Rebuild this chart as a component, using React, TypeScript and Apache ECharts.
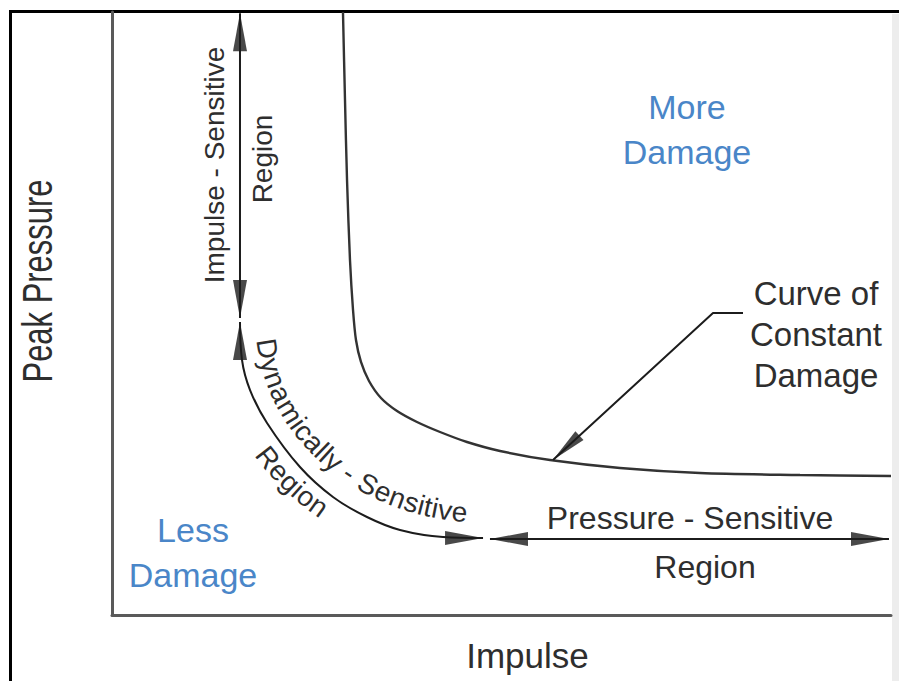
import React, { useEffect, useRef } from "react";
import * as echarts from "echarts";

// ---------- data (both axes in relative units 0–100) ----------
const curveImpulse = [29.65, 29.91, 30.17, 30.55, 30.94, 31.32, 31.96, 32.99, 34.53, 36.59, 39.15, 42.11, 45.57, 49.81, 56.23, 65.21, 75.48, 88.32, 100];
const curvePressure = [100, 85.41, 72.14, 58.87, 50.58, 45.61, 41.96, 38.81, 35.99, 33.83, 32.01, 30.35, 28.69, 27.2, 25.7, 24.38, 23.55, 23.22, 23.05];

const impulseArrowX = [16.43, 16.43];
const impulseArrowY = [99.8, 49.25];

const dynArcX = [16.43, 16.69, 17.72, 19.9, 24.13, 28.37, 32.73, 36.97, 42.49, 47.63];
const dynArcY = [48.59, 42.29, 37.31, 31.84, 24.54, 19.57, 16.25, 14.1, 12.94, 12.77];

const pressureArrowX = [48.52, 99.74];
const pressureArrowY = [12.6, 12.6];

const pointerX = [56.61, 77.15, 81.0];
const pointerY = [25.7, 50.08, 50.08];

// ---------- texts ----------
const xTitle = "Impulse";
const yTitle = "Peak Pressure";
const moreDamage = ["More", "Damage"];
const lessDamage = ["Less", "Damage"];
const curveLabel = ["Curve of", "Constant", "Damage"];
const pressureLabel = ["Pressure - Sensitive", "Region"];
const impulseLabel = ["Impulse - Sensitive", "Region"];
const dynamicLabel = ["Dynamically - Sensitive", "Region"];

const FONT = '"Liberation Sans", Arial, Helvetica, sans-serif';
const DARK = "#2e2e2e";
const BLUE = "#4a86c8";
const LINE = "#1c1c1c";

const pts = (xs: number[], ys: number[]) => xs.map((x, i) => [x, ys[i]]);

// place characters of a string along an elliptical path (layout helper for curved text)
function arcText(
  text: string,
  cx: number,
  cy: number,
  a: number,
  b: number,
  centerDeg: number,
  fontSize: number,
  fill: string
) {
  const canvas = document.createElement("canvas");
  const ctx = canvas.getContext("2d")!;
  ctx.font = `${fontSize}px ${FONT}`;
  const N = 4000;
  const t0 = (-20 * Math.PI) / 180;
  const t1 = (110 * Math.PI) / 180;
  const th: number[] = [];
  const ss: number[] = [];
  let s = 0;
  let px = 0;
  let py = 0;
  for (let i = 0; i <= N; i++) {
    const t = t0 + ((t1 - t0) * i) / N;
    const x = cx - a * Math.cos(t);
    const y = cy + b * Math.sin(t);
    if (i > 0) s += Math.hypot(x - px, y - py);
    px = x;
    py = y;
    th.push(t);
    ss.push(s);
  }
  const sAtTheta = (t: number) => {
    const i = Math.round(((t - t0) / (t1 - t0)) * N);
    return ss[Math.max(0, Math.min(N, i))];
  };
  const thetaAtS = (target: number) => {
    let lo = 0;
    let hi = N;
    while (hi - lo > 1) {
      const mid = (lo + hi) >> 1;
      if (ss[mid] < target) lo = mid;
      else hi = mid;
    }
    return th[hi];
  };
  const total = ctx.measureText(text).width;
  const sStart = sAtTheta((centerDeg * Math.PI) / 180) - total / 2;
  const els: any[] = [];
  for (let i = 0; i < text.length; i++) {
    const ch = text[i];
    const before = ctx.measureText(text.slice(0, i)).width;
    const w = ctx.measureText(ch).width;
    if (ch === " ") continue;
    const t = thetaAtS(sStart + before + w / 2);
    const x = cx - a * Math.cos(t);
    const y = cy + b * Math.sin(t);
    const phi = Math.atan2(b * Math.cos(t), a * Math.sin(t));
    els.push({
      type: "text",
      x,
      y,
      rotation: -phi,
      silent: true,
      style: { text: ch, fontSize, fontFamily: FONT, fill, align: "center", verticalAlign: "middle" },
    });
  }
  return els;
}

function label(text: string, x: number, y: number, fontSize: number, fill: string, rotation = 0, scaleX = 1) {
  return {
    type: "text",
    x,
    y,
    rotation,
    scaleX,
    silent: true,
    style: { text, fontSize, fontFamily: FONT, fill, align: "center", verticalAlign: "middle" },
  };
}

function buildOption() {
  const HL = 38;
  const HW = 14;
  const lastArc = dynArcX.length - 1;
  const heads = [
    { value: [impulseArrowX[0], impulseArrowY[0]], symbolRotate: 0, symbolOffset: [0, HL / 2] },
    { value: [impulseArrowX[1], impulseArrowY[1]], symbolRotate: 180, symbolOffset: [0, -HL / 2] },
    { value: [dynArcX[0], dynArcY[0]], symbolRotate: 0, symbolOffset: [0, HL / 2] },
    { value: [dynArcX[lastArc], dynArcY[lastArc]], symbolRotate: -90, symbolOffset: [-HL / 2, 0] },
    { value: [pressureArrowX[0], pressureArrowY[0]], symbolRotate: 90, symbolOffset: [HL / 2, 0] },
    { value: [pressureArrowX[1], pressureArrowY[1]], symbolRotate: -90, symbolOffset: [-HL / 2, 0] },
    {
      value: [pointerX[0], pointerY[0]],
      symbolRotate: 132.6,
      symbolSize: [12, 36],
      symbolOffset: [13.2, -12.2],
    },
  ];

  const lineBase = {
    type: "line",
    symbol: "none",
    showSymbol: false,
    silent: true,
    clip: false,
  };

  const graphics: any[] = [
    {
      type: "rect",
      silent: true,
      shape: { x: 892, y: 14, width: 7, height: 667 },
      style: { fill: "#ededed" },
    },
    {
      type: "polyline",
      silent: true,
      shape: { points: [[10.5, 681], [10.5, 11.5], [899, 11.5]] },
      style: { stroke: "#000", lineWidth: 3, fill: null },
    },
    label(yTitle, 37.5, 281, 43, DARK, Math.PI / 2, 0.72),
    label(moreDamage[0], 687, 107, 34, BLUE),
    label(moreDamage[1], 687, 152, 34, BLUE),
    label(lessDamage[0], 193, 530, 34, BLUE),
    label(lessDamage[1], 193, 575, 34, BLUE),
    label(curveLabel[0], 816, 293, 33, DARK),
    label(curveLabel[1], 816, 334, 33, DARK),
    label(curveLabel[2], 816, 375, 33, DARK),
    label(pressureLabel[0], 690, 518, 32, DARK),
    label(pressureLabel[1], 705, 567, 32, DARK),
    label(impulseLabel[0], 214, 165, 28, DARK, Math.PI / 2),
    label(impulseLabel[1], 262, 159, 28, DARK, Math.PI / 2),
    ...arcText(dynamicLabel[0], 483, 322, 243 - 25, 216 - 25, 47, 28, DARK),
    ...arcText(dynamicLabel[1], 483, 322, 243 + 20, 216 + 20, 43, 28, DARK),
  ];

  const axisCommon = {
    type: "value",
    min: 0,
    max: 100,
    axisLine: { show: true, onZero: false, lineStyle: { color: "#5a5a5a", width: 3 } },
    axisTick: { show: false },
    axisLabel: { show: false },
    splitLine: { show: false },
  };

  return {
    animation: false,
    backgroundColor: "#ffffff",
    grid: { left: 112, right: 8, top: 12, bottom: 66 },
    xAxis: {
      ...axisCommon,
      name: xTitle,
      nameLocation: "middle",
      nameGap: 23,
      nameTextStyle: { fontSize: 35, fontFamily: FONT, color: DARK, padding: [0, 0, 0, 52] },
    },
    yAxis: { ...axisCommon },
    series: [
      {
        ...lineBase,
        name: "Curve of Constant Damage",
        data: pts(curveImpulse, curvePressure),
        smooth: 0.3,
        lineStyle: { color: "#333", width: 2.4 },
      },
      { ...lineBase, name: "Impulse-Sensitive", data: pts(impulseArrowX, impulseArrowY), lineStyle: { color: LINE, width: 2 } },
      {
        ...lineBase,
        name: "Dynamically-Sensitive",
        data: pts(dynArcX, dynArcY),
        smooth: 0.4,
        lineStyle: { color: LINE, width: 2 },
      },
      { ...lineBase, name: "Pressure-Sensitive", data: pts(pressureArrowX, pressureArrowY), lineStyle: { color: LINE, width: 2 } },
      { ...lineBase, name: "Pointer", data: pts(pointerX, pointerY), lineStyle: { color: LINE, width: 2 } },
      {
        type: "scatter",
        name: "Arrowheads",
        silent: true,
        symbol: "triangle",
        symbolSize: [HW, HL],
        itemStyle: { color: LINE },
        z: 5,
        data: heads,
      },
    ],
    graphic: graphics,
  };
}

export default function App() {
  const ref = useRef<HTMLDivElement>(null);
  useEffect(() => {
    if (!ref.current) return;
    const chart = echarts.init(ref.current, undefined, { renderer: "svg" });
    chart.setOption(buildOption() as any);
    return () => chart.dispose();
  }, []);
  return (
    <div
      ref={ref}
      style={{ position: "fixed", left: 0, top: 0, width: 899, height: 681, background: "#fff" }}
    />
  );
}
